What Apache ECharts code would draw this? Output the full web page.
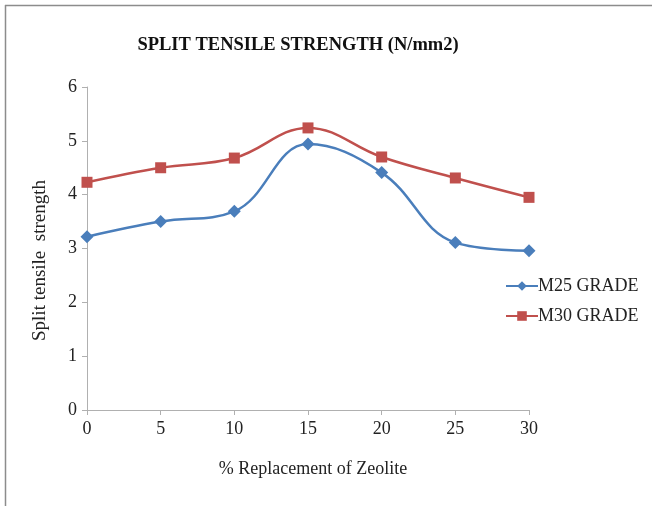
<!DOCTYPE html>
<html>
<head>
<meta charset="utf-8">
<style>
  html, body { margin: 0; padding: 0; background: #ffffff; }
  #chart { width: 652px; height: 506px; }
</style>
<script src="https://cdn.jsdelivr.net/npm/echarts@6/dist/echarts.min.js"></script>
</head>
<body>
<div id="chart"></div>
<script>
// Zeolite replacement levels (%)
const replacement = [0, 5, 10, 15, 20, 25, 30];
// Split tensile strength (N/mm2) per grade
const m25Grade = [3.22, 3.50, 3.69, 4.94, 4.41, 3.11, 2.96];
const m30Grade = [4.23, 4.50, 4.68, 5.24, 4.70, 4.31, 3.95];
const seriesNames = ['M25 GRADE', 'M30 GRADE'];

const serif = '"Liberation Serif", "DejaVu Serif", serif';
const chart = echarts.init(document.getElementById('chart'));

const pairs = arr => replacement.map((x, i) => [x, arr[i]]);

chart.setOption({
  backgroundColor: '#ffffff',
  animation: false,
  title: {
    text: 'SPLIT TENSILE STRENGTH (N/mm2)',
    left: 293,
    textAlign: 'center',
    top: 31,
    textStyle: { fontFamily: serif, fontSize: 18.5, fontWeight: 'bold', color: '#111' }
  },
  legend: {
    orient: 'vertical',
    left: 500,
    top: 272,
    itemWidth: 32,
    itemHeight: 12,
    itemGap: 12,
    textStyle: { fontFamily: serif, fontSize: 18, color: '#222', padding: [0, 0, 0, -5] },
    data: seriesNames
  },
  grid: { left: 87, right: 123, top: 87, bottom: 96 },
  xAxis: {
    type: 'value',
    min: 0, max: 30, interval: 5,
    name: '% Replacement of Zeolite',
    nameLocation: 'middle',
    nameGap: 50,
    nameTextStyle: { fontFamily: serif, fontSize: 18, color: '#222', padding: [0, 0, 0, 10] },
    axisLine: { lineStyle: { color: '#b0b0b0', width: 1 } },
    axisTick: { show: true, length: 5, lineStyle: { color: '#b0b0b0' } },
    axisLabel: { fontFamily: serif, fontSize: 18, color: '#222', margin: 10 },
    splitLine: { show: false }
  },
  yAxis: {
    type: 'value',
    min: 0, max: 6, interval: 1,
    name: 'Split tensile  strength',
    nameLocation: 'middle',
    nameGap: 37,
    nameTextStyle: { fontFamily: serif, fontSize: 19, color: '#222', padding: [0, 24, 0, 0] },
    axisLine: { show: true, lineStyle: { color: '#b0b0b0', width: 1 } },
    axisTick: { show: true, length: 5, lineStyle: { color: '#b0b0b0' } },
    axisLabel: { fontFamily: serif, fontSize: 18, color: '#222', margin: 10 },
    splitLine: { show: false }
  },
  series: [
    {
      name: seriesNames[0],
      type: 'line',
      data: pairs(m25Grade),
      smooth: 0.4,
      symbol: 'diamond',
      symbolSize: 13,
      color: '#4a7ebb',
      lineStyle: { width: 2.5, color: '#4a7ebb' },
      itemStyle: { color: '#4a7ebb' }
    },
    {
      name: seriesNames[1],
      type: 'line',
      data: pairs(m30Grade),
      smooth: 0.4,
      symbol: 'rect',
      symbolSize: 11,
      color: '#c0504d',
      lineStyle: { width: 2.5, color: '#c0504d' },
      itemStyle: { color: '#c0504d' }
    }
  ],
  graphic: [
    { type: 'line', shape: { x1: 5, y1: 5.5, x2: 652, y2: 5.5 }, style: { stroke: '#8c8c8c', lineWidth: 1.5 } },
    { type: 'line', shape: { x1: 5.5, y1: 5, x2: 5.5, y2: 506 }, style: { stroke: '#8c8c8c', lineWidth: 1.5 } }
  ]
});
</script>
</body>
</html>
